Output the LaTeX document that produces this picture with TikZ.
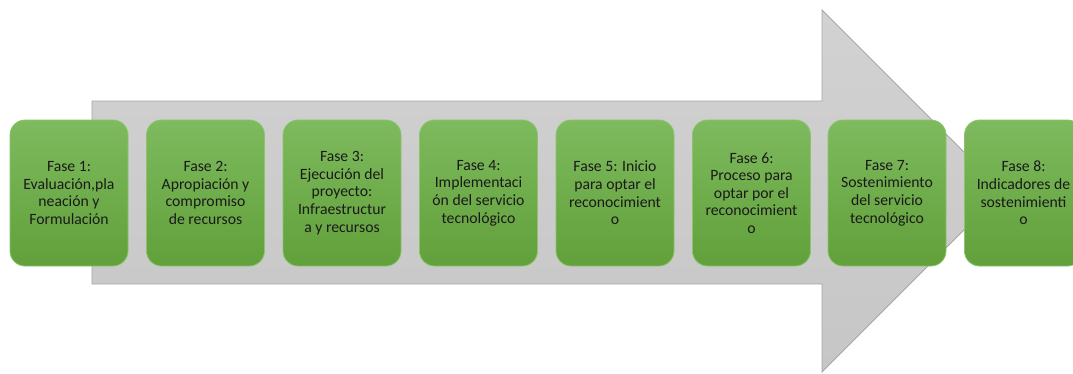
\documentclass[tikz,border=0pt]{standalone}
\usepackage{fontspec}
\setmainfont{Carlito}
\definecolor{gtop}{HTML}{7EBA5E}
\definecolor{gbot}{HTML}{61A03A}
\definecolor{gline}{HTML}{8CC46C}
\definecolor{atop}{HTML}{D2D2D2}
\definecolor{abot}{HTML}{C6C6C6}
\definecolor{aline}{HTML}{A6A6A6}
\definecolor{txt}{HTML}{1A1A1A}
\tikzset{
  fase/.style={draw=gline, line width=0.8pt, rounded corners=15pt,
    top color=gtop, bottom color=gbot, minimum width=118pt, minimum height=146pt,
    inner sep=0pt, align=center, text=txt,
    font=\fontsize{15.7}{17.6}\selectfont},
  bigarrow/.style={draw=aline, line width=0.8pt, top color=atop, bottom color=abot}
}
\begin{document}
\begin{tikzpicture}[x=1pt,y=-1pt]
\useasboundingbox (0,0) rectangle (1073,373);
\clip (0,0) rectangle (1073,373);
\draw[bigarrow] (92,101) -- (822,101) -- (822,10) -- (1003,191) -- (822,372) -- (822,284) -- (92,284) -- cycle;
\node[fase] (f1) at (69,193) {Fase 1:\\Evaluación,pla\\neación y\\Formulación};
\node[fase] (f2) at (205.5,193) {Fase 2:\\Apropiación y\\compromiso\\de recursos};
\node[fase] (f3) at (342,193) {Fase 3:\\Ejecución del\\proyecto:\\Infraestructur\\a y recursos};
\node[fase] (f4) at (478.5,193) {Fase 4:\\Implementaci\\ón del servicio\\tecnológico};
\node[fase] (f5) at (615,193) {Fase 5: Inicio\\para optar el\\reconocimient\\o};
\node[fase] (f6) at (751.5,193) {Fase 6:\\Proceso para\\optar por el\\reconocimient\\o};
\node[fase] (f7) at (887,193) {Fase 7:\\Sostenimiento\\del servicio\\tecnológico};
\node[fase] (f8) at (1023.5,193) {Fase 8:\\Indicadores de\\sostenimienti\\o};
\end{tikzpicture}
\end{document}
